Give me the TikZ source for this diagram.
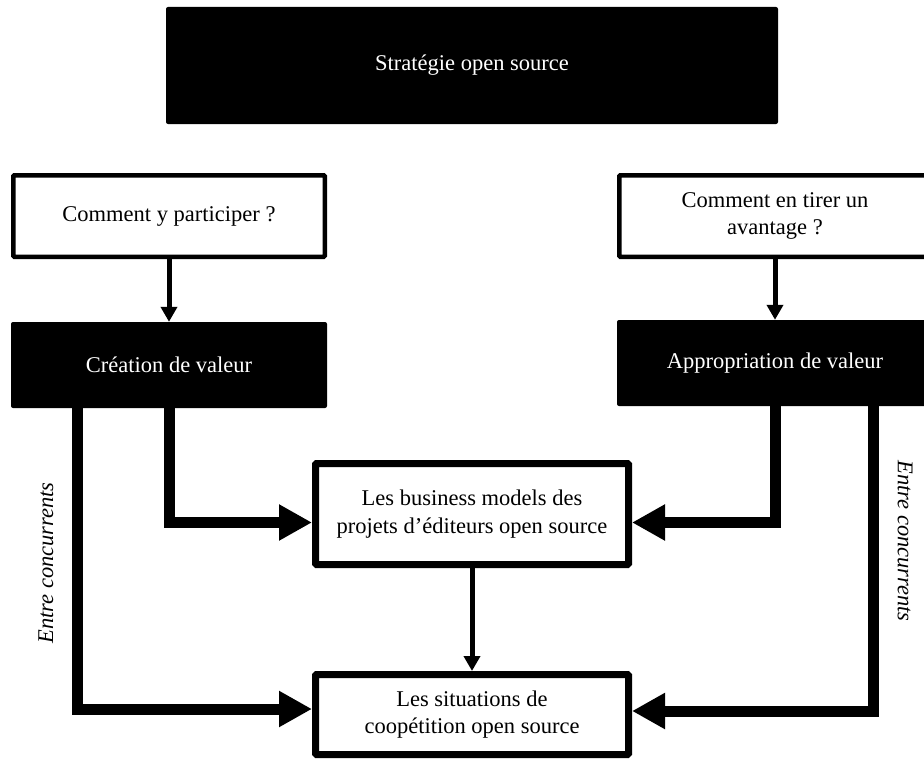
\documentclass[tikz,border=0pt]{standalone}
\usepackage{fontspec}
\setmainfont{Liberation Serif}
\usetikzlibrary{arrows.meta}

\begin{document}
\begin{tikzpicture}[x=1pt,y=-1pt]
    \tikzstyle{every node}=[font=\fontsize{22.5}{27.5}\selectfont, align=center, inner sep=0pt]
    \tikzstyle{darkbox}=[rectangle, fill=black, text=white, rounded corners=2pt, minimum width=316pt, minimum height=86pt]
    \tikzstyle{question}=[rectangle, draw, fill=white, line width=4.5pt, rounded corners=1pt, minimum width=311.5pt, minimum height=81.5pt]
    \tikzstyle{result}=[rectangle, draw, fill=white, line width=7pt, rounded corners=1pt, minimum width=313pt]
    \tikzstyle{link}=[line width=5pt, -{Triangle[width=16pt,length=15pt]}]
    \tikzstyle{bigflow}=[line width=11pt, -{Triangle[width=34pt,length=33pt]}]

    \useasboundingbox (0,0) rectangle (924,760);

    \node[darkbox, minimum width=612pt, minimum height=117pt] (strat) at (472,65.5) {Stratégie open source};
    \node[question] (part) at (169,216) {Comment y participer ?};
    \node[question] (tirer) at (775,216) {Comment en tirer un\\avantage ?};
    \node[darkbox] (crea) at (169,365) {Création de valeur};
    \node[darkbox] (appr) at (775,363) {Appropriation de valeur};
    \node[result, minimum height=101pt] (biz) at (472,514) {Les business models des\\projets d’éditeurs open source};
    \node[result, minimum height=80pt] (coop) at (472,714.5) {Les situations de\\coopétition open source};

    \draw[link] (part) -- (crea);
    \draw[link] (tirer) -- (appr);
    \draw[link] (biz) -- (coop);

    \draw[bigflow] (crea.south) |- ([yshift=-8.5pt]biz.west);
    \draw[bigflow] ([xshift=-91.5pt]crea.south) |- ([yshift=5.5pt]coop.west);
    \draw[bigflow] (appr.south) |- ([yshift=-8.5pt]biz.east);
    \draw[bigflow] ([xshift=98pt]appr.south) |- ([yshift=3.5pt]coop.east);

    \node[rotate=90, font=\fontsize{22.5}{27.5}\selectfont\itshape] (gauche) at (46,563) {Entre concurrents};
    \node[rotate=-90, font=\fontsize{22.5}{27.5}\selectfont\itshape] (droite) at (905,541) {Entre concurrents};

\end{tikzpicture}
\end{document}
